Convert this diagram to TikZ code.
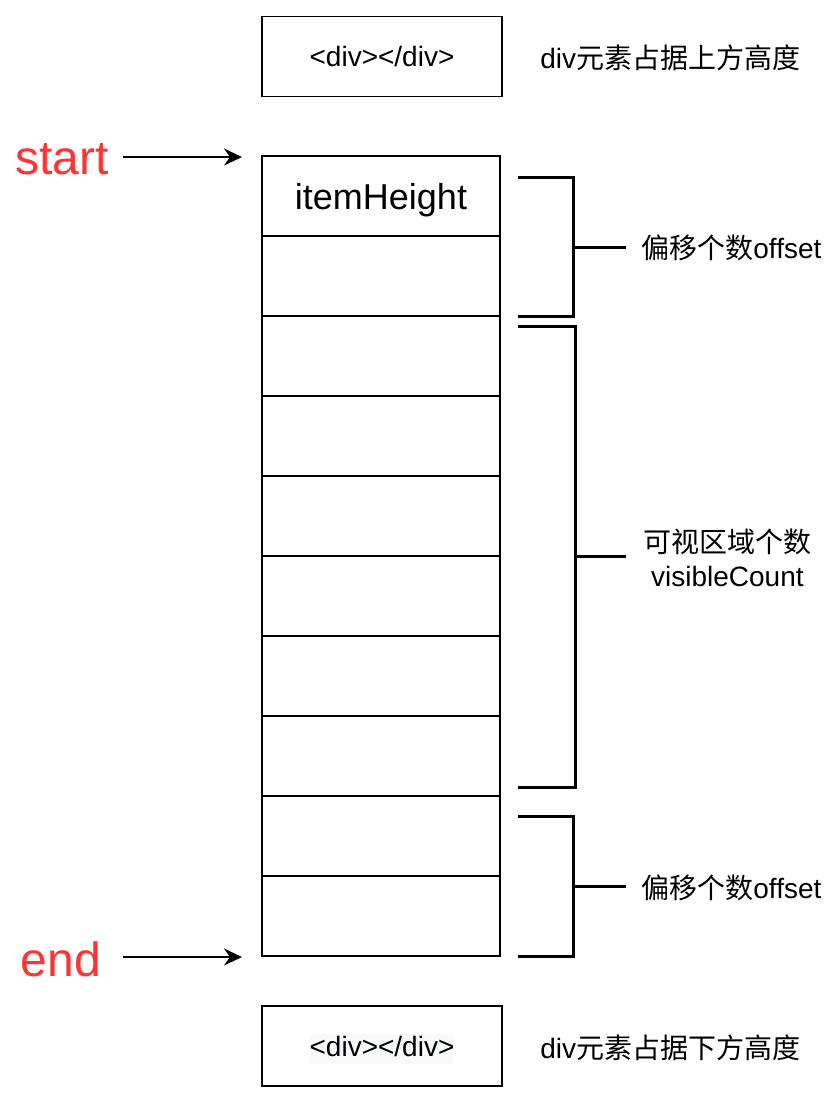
\documentclass[tikz,border=0pt]{standalone}
\usepackage{fontspec}
\setmainfont{Liberation Sans}
\newfontfamily\cjk{Noto Sans CJK SC}
\usetikzlibrary{positioning,arrows.meta}
\definecolor{startred}{HTML}{FF3333}
\definecolor{codebg}{HTML}{F8F9FA}

\begin{document}
\begin{tikzpicture}[%
        x=0.5pt, y=-0.5pt,
        >={Stealth[length=9pt,width=8.5pt,inset=3pt]},
        cell/.style={draw, line width=0.8pt, minimum width=119pt,
                     minimum height=40pt, inner sep=0pt, outer sep=0pt},
        divbox/.style={draw, line width=0.8pt, minimum width=120pt,
                       minimum height=40pt, inner sep=0pt},
        code/.style={inner xsep=0pt, inner ysep=0.6pt, text height=10.5pt,
                     text depth=3pt, font=\fontsize{14}{16}\selectfont},
        lbl/.style={inner sep=0pt, anchor=west, align=center,
                    font=\fontsize{14}{17}\selectfont},
        ptrlbl/.style={text=startred, inner sep=0pt,
                     font=\fontsize{24}{28}\selectfont},
        brk/.style={line width=1.5pt},
        pointer/.style={->, line width=0.75pt}
        ]

        \useasboundingbox (0,0) rectangle (834,1104);

        % upper placeholder div
        \node[divbox] (top) at (382,56.5) {};
        \node[code] (toptxt) at (382,59) {<div></div>};
        \node[lbl] (toplbl) at (540,58) {div{\cjk 元素占据上方高度}};

        % list items
        \node[cell] (c1) at (381,196) {};
        \foreach \i [remember=\i as \j (initially 1)] in {2,...,10}
            \node[cell] (c\i) [below=0pt of c\j] {};
        \node[inner sep=0pt, font=\fontsize{18}{20}\selectfont] (ih) at ([yshift=-2pt]c1.center) {itemHeight};

        % start / end pointers
        \node[ptrlbl] (start) at (62,159) {start};
        \node[ptrlbl] (end) at (61,959) {end};
        \coordinate (startout) at (123,157);
        \coordinate (startin) at (242,157);
        \coordinate (endout) at (123,957);
        \coordinate (endin) at (242,957);
        \draw[pointer] (startout) -- (startin);
        \draw[pointer] (endout) -- (endin);

        % brackets
        \coordinate (b1) at (573,247);
        \coordinate (b2) at (575,556);
        \coordinate (b3) at (573,886);
        \draw[brk] (518,177) -| (573,316) -- (518,316);
        \draw[brk] (518,326) -| (575,787) -- (518,787);
        \draw[brk] (518,816) -| (573,956) -- (518,956);

        \node[lbl] (off1) at (641,248) {{\cjk 偏移个数}offset};
        \node[lbl] (vis) at (643,558) {{\cjk 可视区域个数}\\visibleCount};
        \node[lbl] (off2) at (641,888) {{\cjk 偏移个数}offset};
        \draw[brk] (b1) -- ++(53,0);
        \draw[brk] (b2) -- ++(51,0);
        \draw[brk] (b3) -- ++(53,0);

        % lower placeholder div
        \node[divbox] (bot) at (382,1046) {};
        \node[code, fill=codebg] (bottxt) at (382,1049) {<div></div>};
        \node[lbl] (botlbl) at (540,1048) {div{\cjk 元素占据下方高度}};

\end{tikzpicture}
\end{document}
